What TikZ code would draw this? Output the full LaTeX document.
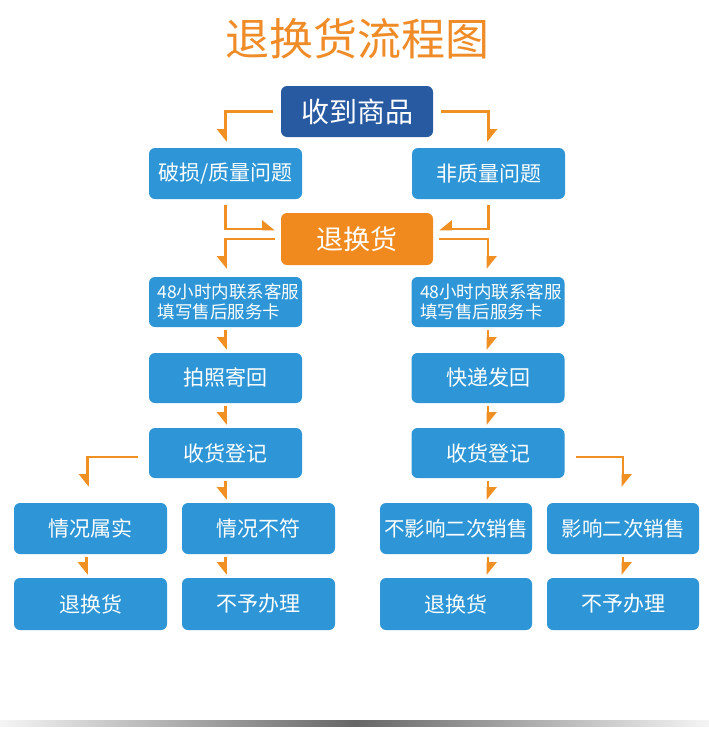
\documentclass[tikz,border=0pt]{standalone}
\usepackage{fontspec}
\setmainfont{Noto Sans CJK SC}
\usetikzlibrary{arrows.meta,positioning,calc}
\definecolor{boxblue}{RGB}{46,150,214}
\definecolor{darkblue}{RGB}{40,90,162}
\definecolor{boxorange}{RGB}{240,138,30}
\definecolor{arrorange}{RGB}{240,144,34}
\definecolor{titleorange}{RGB}{240,140,40}
\tikzset{
  stepbox/.style={rectangle, rounded corners=6pt, fill=boxblue, text=white,
    minimum width=153pt, minimum height=51pt, inner sep=0pt,
    font=\fontsize{21pt}{24pt}\selectfont},
  bigbox/.style={stepbox, minimum width=152pt, font=\fontsize{28pt}{32pt}\selectfont},
  twoline/.style={stepbox, minimum height=50pt, text width=136pt, inner xsep=8.5pt,
    align=left, font=\fontsize{17.5pt}{20pt}\selectfont},
  conn/.style={draw=arrorange, line width=2.6pt},
  tipE/.style={conn, -{Triangle[harpoon, length=11pt, width=17pt]}},
  tipW/.style={conn, -{Triangle[harpoon, swap, length=11pt, width=17pt]}},
}
\begin{document}
\begin{tikzpicture}[x=1pt,y=-1pt]
\useasboundingbox (0,0) rectangle (709,747);
\fill[white] (0,0) rectangle (709,747);

\node[text=titleorange, font=\fontsize{44pt}{48pt}\selectfont] (title) at (357,39) {退换货流程图};

\node[bigbox, fill=darkblue] (top) at (357,111.5) {收到商品};
\node[stepbox] (q1) at (225.5,173.5) {破损/质量问题};
\node[stepbox] (q2) at (488.5,173.5) {非质量问题};
\node[bigbox, fill=boxorange, minimum height=52pt, font=\fontsize{27pt}{30pt}\selectfont] (ret) at (357,239) {退换货};

\node[twoline] (c1) at (225.5,302) {48小时内联系客服\\填写售后服务卡};
\node[twoline] (c2) at (488,302) {48小时内联系客服\\填写售后服务卡};

\node[stepbox, minimum height=50pt] (p1) at (225.5,378) {拍照寄回};
\node[stepbox, minimum height=50pt] (p2) at (488,378) {快递发回};

\node[stepbox, minimum height=50pt] (r1) at (225.5,453) {收货登记};
\node[stepbox, minimum height=50pt] (r2) at (488,453) {收货登记};

\node[stepbox] (a) at (90.5,528.5) {情况属实};
\node[stepbox] (b) at (258.5,528.5) {情况不符};
\node[stepbox, minimum width=152pt, font=\fontsize{20.5pt}{24pt}\selectfont] (c) at (456,528.5) {不影响二次销售};
\node[stepbox, minimum width=152pt, font=\fontsize{20.5pt}{24pt}\selectfont] (d) at (623,528.5) {影响二次销售};

\node[stepbox, minimum height=52pt] (a2) at (90.5,604) {退换货};
\node[stepbox, minimum height=52pt] (b2) at (258.5,604) {不予办理};
\node[stepbox, minimum width=152pt, minimum height=52pt] (c2b) at (456,604) {退换货};
\node[stepbox, minimum width=152pt, minimum height=52pt] (d2) at (623,604) {不予办理};

% top brackets
\draw[tipW] ([xshift=-8pt]top.west) -| ([yshift=6pt]q1.north);
\draw[tipE] ([xshift=8pt]top.east) -| ([yshift=6pt]q2.north);

% into 退换货
\draw[tipE] ([yshift=-6pt]q1.south) |- ([xshift=-6pt,yshift=10pt]ret.west);
\draw[tipW] ([yshift=-6pt]q2.south) |- ([xshift=6pt,yshift=10pt]ret.east);

% out of 退换货
\draw[tipW] ([xshift=-6pt]ret.west) -| ([yshift=8pt]c1.north);
\draw[tipE] ([xshift=6pt]ret.east) -| ([yshift=8pt]c2.north);

% short vertical arrows
\draw[tipW] ([yshift=-3pt]c1.south) -- ([yshift=3pt]p1.north);
\draw[tipE] ([yshift=-3pt]c2.south) -- ([yshift=3pt]p2.north);
\draw[tipW] ([yshift=-3pt]p1.south) -- ([yshift=3pt]r1.north);
\draw[tipE] ([yshift=-3pt]p2.south) -- ([yshift=3pt]r2.north);

% branches from 收货登记
\draw[tipW] ([xshift=-11pt,yshift=-4pt]r1.west) -| ([xshift=-3pt,yshift=16pt]a.north);
\draw[tipW] ([yshift=-3pt]r1.south) -- ([yshift=3pt]r1.south |- b.north);
\draw[tipE] ([yshift=-3pt]r2.south) -- ([yshift=3pt]r2.south |- c.north);
\draw[tipE] ([xshift=11pt,yshift=-4pt]r2.east) -| ([yshift=16pt]d.north);

% bottom row arrows
\draw[tipW] ([xshift=-4pt,yshift=-3pt]a.south) -- ([xshift=-4pt,yshift=3pt]a2.north);
\draw[tipW] ([yshift=-3pt]b.south -| r1.south) -- ([yshift=3pt]b2.north -| r1.south);
\draw[tipE] ([yshift=-3pt]c.south -| r2.south) -- ([yshift=3pt]c2b.north -| r2.south);
\draw[tipE] ([yshift=-3pt]d.south) -- ([yshift=3pt]d2.north);

% bottom gray bar
\shade[left color=gray!8, right color=gray!8, middle color=black!60] (0,720) rectangle (709,726.5);
\end{tikzpicture}
\end{document}
